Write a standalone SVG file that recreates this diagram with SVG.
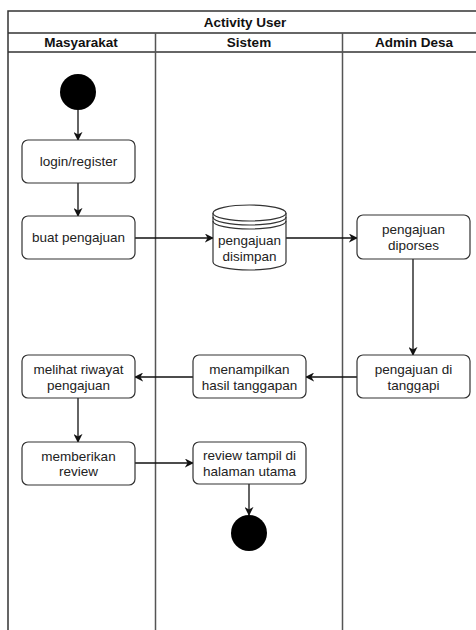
<svg xmlns="http://www.w3.org/2000/svg" width="476" height="630" viewBox="0 0 476 630">
<style>
.lane{fill:none;stroke:#333;stroke-width:1.5}
.div{fill:none;stroke:#555;stroke-width:1.5}
.box{fill:#fff;stroke:#333;stroke-width:1.2}
.t{font-family:"Liberation Sans",Arial,sans-serif;font-size:13.5px;fill:#222;text-anchor:middle;dominant-baseline:central}
.h{font-family:"Liberation Sans",Arial,sans-serif;font-size:13.5px;font-weight:bold;fill:#111;text-anchor:middle;dominant-baseline:central}
.c{fill:none;stroke:#111;stroke-width:1.3}
</style>
<defs>
<marker id="a" viewBox="0 0 10 10" refX="9" refY="5" markerWidth="9" markerHeight="9" markerUnits="userSpaceOnUse" orient="auto">
<path d="M0,0 L10,5 L0,10 L3,5 Z" fill="#111"/>
</marker>
</defs>
<g id="pool">
<rect class="lane" x="8" y="11" width="478" height="630"/>
<line class="lane" x1="8" y1="33" x2="486" y2="33"/>
<line class="lane" x1="8" y1="52" x2="486" y2="52"/>
<line class="div" x1="155.5" y1="33" x2="155.5" y2="630"/>
<line class="div" x1="342.5" y1="33" x2="342.5" y2="630"/>
<text class="h" x="245" y="22">Activity User</text>
<text class="h" x="81" y="42.5">Masyarakat</text>
<text class="h" x="249" y="42.5">Sistem</text>
<text class="h" x="414" y="42.5">Admin Desa</text>
</g>
<g id="connectors">
<line class="c" x1="78" y1="110" x2="78" y2="140" marker-end="url(#a)"/>
<line class="c" x1="78" y1="183" x2="78" y2="216" marker-end="url(#a)"/>
<line class="c" x1="135" y1="238" x2="213" y2="238" marker-end="url(#a)"/>
<line class="c" x1="286" y1="238" x2="357" y2="238" marker-end="url(#a)"/>
<line class="c" x1="413" y1="259" x2="413" y2="355" marker-end="url(#a)"/>
<line class="c" x1="357" y1="377" x2="306" y2="377" marker-end="url(#a)"/>
<line class="c" x1="193" y1="377" x2="135" y2="377" marker-end="url(#a)"/>
<line class="c" x1="78" y1="398" x2="78" y2="442" marker-end="url(#a)"/>
<line class="c" x1="135" y1="463" x2="193" y2="463" marker-end="url(#a)"/>
<line class="c" x1="249" y1="484" x2="249" y2="515" marker-end="url(#a)"/>
</g>
<g id="start"><circle cx="78" cy="92" r="18" fill="#000"/></g>
<g id="login"><rect class="box" x="22" y="140" width="113" height="43" rx="6"/><text class="t" x="78.5" y="161.5">login/register</text></g>
<g id="buat"><rect class="box" x="22" y="216" width="113" height="43" rx="6"/><text class="t" x="78.5" y="237.5">buat pengajuan</text></g>
<g id="disimpan">
<path class="box" d="M213,213 L213,262 A36.5,8 0 0 0 286,262 L286,213"/>
<ellipse class="box" cx="249.5" cy="213" rx="36.5" ry="8"/>
<path fill="none" stroke="#333" stroke-width="1.2" d="M213,217 A36.5,8 0 0 0 286,217 M213,221 A36.5,8 0 0 0 286,221"/>
<text class="t" x="249.5" y="240">pengajuan</text><text class="t" x="249.5" y="256">disimpan</text>
</g>
<g id="diporses"><rect class="box" x="357" y="215" width="113" height="44" rx="6"/><text class="t" x="413.5" y="229.5">pengajuan</text><text class="t" x="413.5" y="245">diporses</text></g>
<g id="tanggapi"><rect class="box" x="357" y="355" width="113" height="43" rx="6"/><text class="t" x="413.5" y="369.5">pengajuan di</text><text class="t" x="413.5" y="385">tanggapi</text></g>
<g id="menampilkan"><rect class="box" x="193" y="355" width="113" height="43" rx="6"/><text class="t" x="249.5" y="369.5">menampilkan</text><text class="t" x="249.5" y="385">hasil tanggapan</text></g>
<g id="riwayat"><rect class="box" x="22" y="355" width="113" height="43" rx="6"/><text class="t" x="78.5" y="369.5">melihat riwayat</text><text class="t" x="78.5" y="385">pengajuan</text></g>
<g id="review"><rect class="box" x="22" y="442" width="113" height="43" rx="6"/><text class="t" x="78.5" y="456">memberikan</text><text class="t" x="78.5" y="471.5">review</text></g>
<g id="tampil"><rect class="box" x="193" y="442" width="113" height="42" rx="6"/><text class="t" x="249.5" y="455.5">review tampil di</text><text class="t" x="249.5" y="471">halaman utama</text></g>
<g id="end"><circle cx="249" cy="533" r="18" fill="#000"/></g>
</svg>
